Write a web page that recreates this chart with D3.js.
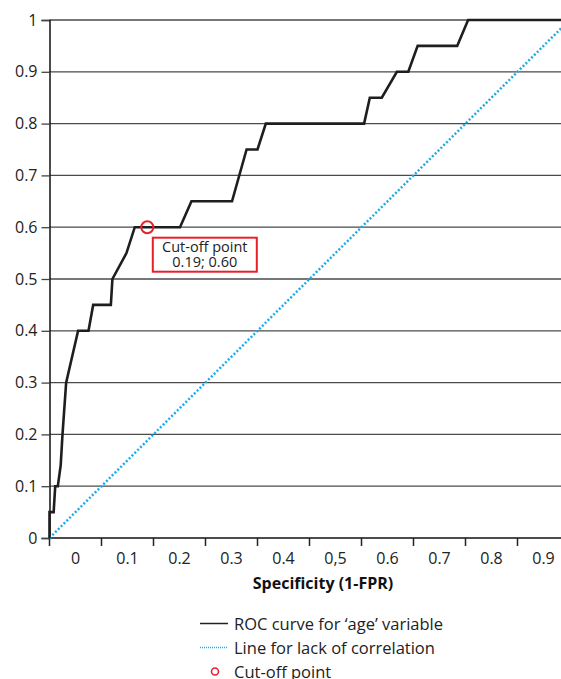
<!DOCTYPE html>
<html>
<head>
<meta charset="utf-8">
<script src="https://cdn.jsdelivr.net/npm/d3@7"></script>
<style>
  body { margin: 0; background: #fff; }
  svg { display: block; font-family: "Open Sans", "Noto Sans", sans-serif; }
</style>
</head>
<body>
<div id="chart"></div>
<script>
// ROC curve points: [1-specificity, sensitivity]
var roc_fpr = [0, 0, 0.008, 0.011, 0.016, 0.0215, 0.025, 0.032, 0.055, 0.075, 0.084, 0.118, 0.121, 0.148, 0.164,
               0.251, 0.273, 0.351, 0.379, 0.40, 0.416, 0.605, 0.616, 0.639, 0.668, 0.69, 0.708, 0.784, 0.805, 1];
var roc_tpr = [0, 0.05, 0.05, 0.10, 0.10, 0.14, 0.20, 0.30, 0.40, 0.40, 0.45, 0.45, 0.50, 0.55, 0.60,
               0.60, 0.65, 0.65, 0.75, 0.75, 0.80, 0.80, 0.85, 0.85, 0.90, 0.90, 0.95, 0.95, 1.0, 1.0];
var diag = [[0, 0], [1, 1]];
var cutoff = [0.19, 0.60];
var cutoff_label = ["Cut-off point", "0.19; 0.60"];

var x_ticks = [0, 0.1, 0.2, 0.3, 0.4, 0.5, 0.6, 0.7, 0.8, 0.9];
var x_labels = ["0", "0.1", "0.2", "0.3", "0.4", "0,5", "0.6", "0.7", "0.8", "0.9"];
var y_ticks = [0, 0.1, 0.2, 0.3, 0.4, 0.5, 0.6, 0.7, 0.8, 0.9, 1];
var y_labels = ["0", "0.1", "0.2", "0.3", "0.4", "0.5", "0.6", "0.7", "0.8", "0.9", "1"];

var legend_items = ["ROC curve for \u2018age\u2019 variable", "Line for lack of correlation", "Cut-off point"];

var width = 561, height = 679;
var svg = d3.select("#chart").append("svg")
    .attr("width", width)
    .attr("height", height);

var x = d3.scaleLinear().domain([0, 1]).range([49.5, 569.5]);
var y = d3.scaleLinear().domain([0, 1]).range([538, 20]);
var xband = d3.scaleBand().domain(x_labels).range([x(0), x(1)]);

// horizontal grid
svg.append("g")
    .selectAll("line")
    .data(y_ticks.slice(1))
    .enter()
    .append("line")
    .attr("x1", x(0))
    .attr("x2", width)
    .attr("y1", function(d){ return y(d); })
    .attr("y2", function(d){ return y(d); })
    .attr("stroke", "#4a4a4a")
    .attr("stroke-width", 1.3);

// y axis
var yaxis = svg.append("g")
    .attr("transform", "translate(" + x(0) + ",0)")
    .call(d3.axisLeft(y).tickValues(y_ticks).tickSize(8).tickPadding(4)
        .tickFormat(function(d, i){ return y_labels[i]; }));
yaxis.select(".domain").attr("stroke", "#111").attr("stroke-width", 1.5);
yaxis.selectAll(".tick line").attr("stroke", "#444").attr("stroke-width", 1.3);
yaxis.selectAll("text").attr("font-size", 16).attr("fill", "#222")
    .attr("font-family", "Open Sans, sans-serif");

// x axis: marks at the tick values, labels in the middle of each interval
var xaxis = svg.append("g")
    .attr("transform", "translate(0," + y(0) + ")");
xaxis.append("line")
    .attr("x1", x(0))
    .attr("x2", width)
    .attr("stroke", "#111")
    .attr("stroke-width", 1.5);
xaxis.selectAll(".xt")
    .data(x_ticks)
    .enter()
    .append("line")
    .attr("class", "xt")
    .attr("x1", function(d){ return x(d); })
    .attr("x2", function(d){ return x(d); })
    .attr("y1", 0)
    .attr("y2", 8)
    .attr("stroke", "#222")
    .attr("stroke-width", 1.5);
xaxis.selectAll(".xl")
    .data(x_labels)
    .enter()
    .append("text")
    .attr("class", "xl")
    .attr("x", function(d){ return xband(d) + xband.bandwidth() / 2; })
    .attr("y", 25.5)
    .attr("text-anchor", "middle")
    .attr("font-size", 16)
    .attr("fill", "#222")
    .text(function(d){ return d; });

svg.append("text")
    .attr("x", 323)
    .attr("y", 589)
    .attr("text-anchor", "middle")
    .attr("font-size", 16)
    .attr("font-weight", "bold")
    .attr("fill", "#111")
    .text("Specificity (1-FPR)");

// chance line
svg.append("path")
    .datum(diag)
    .attr("d", d3.line().x(function(d){ return x(d[0]); }).y(function(d){ return y(d[1]); }))
    .attr("fill", "none")
    .attr("stroke", "#20aae4")
    .attr("stroke-width", 2.5)
    .attr("stroke-dasharray", "2 2");

// ROC curve
var roc = d3.zip(roc_fpr, roc_tpr);
svg.append("path")
    .datum(roc)
    .attr("d", d3.line().x(function(d){ return x(d[0]); }).y(function(d){ return y(d[1]); }))
    .attr("fill", "none")
    .attr("stroke", "#1e1e1e")
    .attr("stroke-width", 2.6)
    .attr("stroke-linejoin", "miter");

// cut-off marker and label
svg.append("circle")
    .attr("cx", x(cutoff[0]) - 1)
    .attr("cy", y(cutoff[1]))
    .attr("r", 6)
    .attr("fill", "none")
    .attr("stroke", "#e8202a")
    .attr("stroke-width", 2);

var bx = x(cutoff[0]) + 4.5, by = y(cutoff[1]) + 10.5;
svg.append("rect")
    .attr("x", bx)
    .attr("y", by)
    .attr("width", 104)
    .attr("height", 34)
    .attr("fill", "#fff")
    .attr("stroke", "#e8202a")
    .attr("stroke-width", 2);
svg.append("g")
    .selectAll("text")
    .data(cutoff_label)
    .enter()
    .append("text")
    .attr("x", bx + 52)
    .attr("y", function(d, i){ return by + 14.5 + i * 15; })
    .attr("text-anchor", "middle")
    .attr("font-size", 14.5)
    .attr("fill", "#222")
    .text(function(d){ return d; });

// legend
var legend = svg.append("g");
var rows = legend.selectAll("g")
    .data(legend_items)
    .enter()
    .append("g")
    .attr("transform", function(d, i){ return "translate(0," + (623.5 + i * 24) + ")"; });
rows.filter(function(d, i){ return i === 0; })
    .append("line")
    .attr("x1", 200).attr("x2", 228)
    .attr("stroke", "#222").attr("stroke-width", 1.5);
rows.filter(function(d, i){ return i === 1; })
    .append("line")
    .attr("x1", 200).attr("x2", 228)
    .attr("stroke", "#20aae4").attr("stroke-width", 1.5)
    .attr("stroke-dasharray", "1 1");
rows.filter(function(d, i){ return i === 2; })
    .append("circle")
    .attr("cx", 215).attr("cy", 0).attr("r", 3.5)
    .attr("fill", "none").attr("stroke", "#e8202a").attr("stroke-width", 1.6);
rows.append("text")
    .attr("x", 234)
    .attr("y", 6)
    .attr("font-size", 16.5)
    .attr("fill", "#222")
    .text(function(d){ return d; });
</script>
</body>
</html>
